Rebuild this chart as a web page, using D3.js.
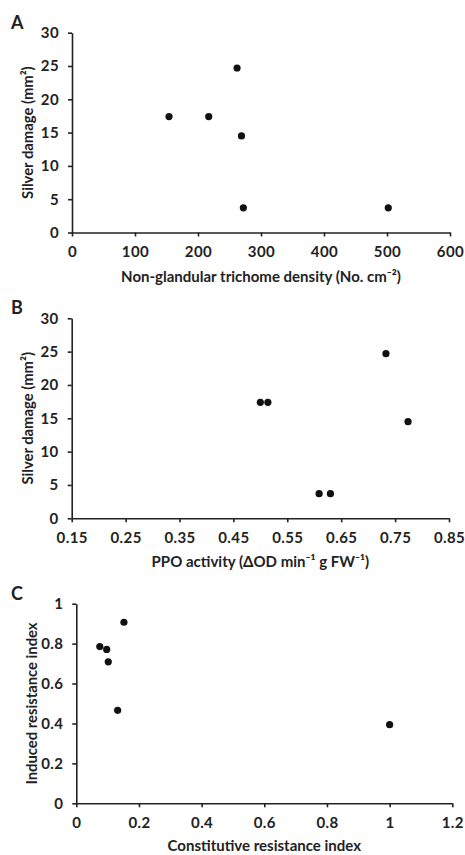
<!DOCTYPE html>
<html>
<head>
<meta charset="utf-8">
<script src="https://cdn.jsdelivr.net/npm/d3@7"></script>
<style>
  body { margin: 0; background: #fff; }
  svg text { font-family: Lato, "Open Sans", sans-serif; font-weight: bold; fill: #222; }
</style>
</head>
<body>
<div id="chart"></div>
<script>
// panel A: trichome density vs silver damage
var trichomeDensity = [154, 217, 262, 269, 272, 502];
var damageA = [17.4, 17.4, 24.7, 14.5, 3.7, 3.7];

// panel B: PPO activity vs silver damage
var ppoActivity = [0.500, 0.514, 0.609, 0.630, 0.733, 0.774];
var damageB = [17.4, 17.4, 3.7, 3.7, 24.7, 14.5];

// panel C: constitutive vs induced resistance index
var constitutiveIdx = [0.075, 0.097, 0.102, 0.152, 0.132, 1.0];
var inducedIdx = [0.785, 0.771, 0.709, 0.907, 0.466, 0.394];

var ticksA = [0, 100, 200, 300, 400, 500, 600];
var ticksB = [0.15, 0.25, 0.35, 0.45, 0.55, 0.65, 0.75, 0.85];
var ticksC = [0, 0.2, 0.4, 0.6, 0.8, 1, 1.2];
var yTicksDamage = [0, 5, 10, 15, 20, 25, 30];
var yTicksIndex = [0, 0.2, 0.4, 0.6, 0.8, 1];

var width = 465, height = 855;

var svg = d3.select("#chart").append("svg")
    .attr("width", width)
    .attr("height", height);

var oneDp = function(d) { return String(+d.toFixed(1)); };

var panels = [
  { letter: "A", xs: trichomeDensity, ys: damageA, xDomain: [0, 600], yDomain: [0, 30],
    xTicks: ticksA, yTicks: yTicksDamage, xFmt: d3.format("d"), yFmt: d3.format("d"),
    left: 72, right: 450, top: 32.7, bottom: 232.5, letterY: 29, titleY: 282,
    yTitleX: 28, xTitle: "Non-glandular trichome density (No. cm\u207B\u00B2)",
    yTitle: "Silver damage (mm\u00B2)" },
  { letter: "B", xs: ppoActivity, ys: damageB, xDomain: [0.15, 0.85], yDomain: [0, 30],
    xTicks: ticksB, yTicks: yTicksDamage, xFmt: d3.format(".2f"), yFmt: d3.format("d"),
    left: 71.7, right: 449, top: 318.3, bottom: 518.3, letterY: 314, titleY: 567,
    yTitleX: 28, xTitle: "PPO activity (\u0394OD min\u207B\u00B9 g FW\u207B\u00B9)",
    yTitle: "Silver damage (mm\u00B2)" },
  { letter: "C", xs: constitutiveIdx, ys: inducedIdx, xDomain: [0, 1.2], yDomain: [0, 1],
    xTicks: ticksC, yTicks: yTicksIndex, xFmt: oneDp, yFmt: oneDp,
    left: 76.3, right: 452.3, top: 603.7, bottom: 803.3, letterY: 600, titleY: 851,
    yTitleX: 32, xTitle: "Constitutive resistance index",
    yTitle: "Induced resistance index" }
];

panels.forEach(function(p) {
  var x = d3.scaleLinear().domain(p.xDomain).range([p.left, p.right]);
  var y = d3.scaleLinear().domain(p.yDomain).range([p.bottom, p.top]);

  var g = svg.append("g");

  var xAxis = g.append("g")
      .attr("transform", "translate(0," + p.bottom + ")")
      .call(d3.axisBottom(x).tickValues(p.xTicks).tickFormat(p.xFmt)
        .tickSize(4).tickSizeOuter(0).tickPadding(10));

  var yAxis = g.append("g")
      .attr("transform", "translate(" + p.left + ",0)")
      .call(d3.axisLeft(y).tickValues(p.yTicks).tickFormat(p.yFmt)
        .tickSize(4).tickSizeOuter(0).tickPadding(9));

  [xAxis, yAxis].forEach(function(a) {
    a.selectAll("path, line").attr("stroke", "#222").attr("stroke-width", 1.6);
    a.selectAll("text").style("font-size", "15px").style("letter-spacing", "0.4px").attr("fill", "#222");
  });

  g.selectAll(".dot")
      .data(p.xs.map(function(d, i) { return [d, p.ys[i]]; }))
      .enter().append("circle")
      .attr("class", "dot")
      .attr("cx", function(d) { return x(d[0]); })
      .attr("cy", function(d) { return y(d[1]); })
      .attr("r", 3.6)
      .attr("fill", "#111");

  g.append("text")
      .attr("x", (p.left + p.right) / 2)
      .attr("y", p.titleY)
      .attr("text-anchor", "middle")
      .style("font-size", "15px")
      .text(p.xTitle);

  g.append("text")
      .attr("transform", "translate(" + p.yTitleX + "," + ((p.top + p.bottom) / 2) + ") rotate(-90)")
      .attr("text-anchor", "middle")
      .attr("dy", "0.35em")
      .style("font-size", "14.8px")
      .text(p.yTitle);

  g.append("text")
      .attr("x", 11)
      .attr("y", p.letterY)
      .style("font-size", "18px")
      .text(p.letter);
});
</script>
</body>
</html>
